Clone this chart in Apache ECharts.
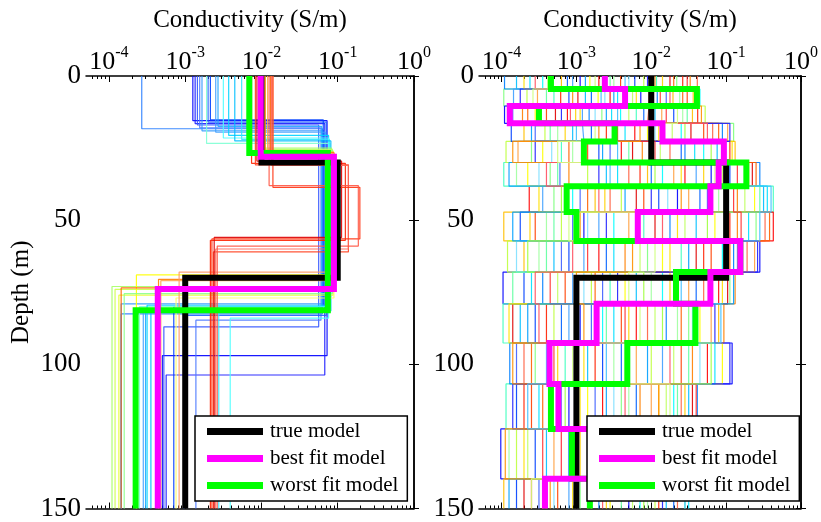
<!DOCTYPE html>
<html>
<head>
<meta charset="utf-8">
<script src="https://cdn.jsdelivr.net/npm/echarts@6/dist/echarts.min.js"></script>
<style>
  html, body { margin: 0; padding: 0; background: #fff; }
  #chart { width: 821px; height: 522px; }
</style>
</head>
<body>
<div id="chart"></div>
<script>
const FONT = '"Liberation Serif", "Times New Roman", serif'

// x axis is log10(conductivity), from 5e-5 to 1 S/m
const xMin = Math.log10(5e-5)
const xMax = 0
const decadeTicks = [-4, -3, -2, -1, 0]
const depthMax = 150

// true model (same in both panels)
const trueLog = [-2, -1, -3]
const trueTops = [0, 30, 70]

// left panel: 3-layer inversion
const leftBestLog = [-2.01, -1.05, -3.36]
const leftBestTops = [0, 28, 73.9]
const leftWorstLog = [-2.16, -1.13, -3.65]
const leftWorstTops = [0, 26.7, 81.2]

// left ensemble, one entry per model
const leftC1 = [-3.57, -2.90, -2.87, -2.84, -2.81, -2.78, -2.70, -2.67, -2.60, -2.57,
  -2.72, -2.43, -2.26, -2.50, -2.35, -2.00, -1.98, -2.02, -1.97, -1.96, -1.99,
  -1.95, -1.92, -1.88, -1.85, -2.13, -2.08, -2.06, -1.87, -1.85, -1.90]
const leftD1 = [18.3, 15.5, 16.5, 17, 18, 19, 16, 15.2, 19.5, 17.5,
  23.4, 20.6, 22, 21.5, 22.5, 25, 25.5, 26, 26.5, 27, 25.8,
  26.5, 27, 27.5, 28, 30.3, 30.8, 29.5, 31, 38.6, 38]
const leftC2 = [-1.20, -1.14, -1.17, -1.25, -1.22, -1.18, -1.15, -1.19, -1.16, -1.21,
  -1.10, -1.12, -1.11, -1.12, -1.09, -1.08, -1.07, -1.06, -1.08, -1.05, -1.07,
  -1.05, -1.04, -1.06, -1.03, -0.90, -0.86, -0.95, -0.86, -0.71, -0.73]
const leftD2 = [82.5, 97, 103.7, 87, 84.7, 79, 83, 80, 81, 82,
  80, 79.5, 80, 84, 81.5, 73, 74, 76, 69, 77, 75.5,
  70.5, 71, 73.5, 68, 57, 61, 56, 60, 56.5, 59]
const leftC3 = [-3.84, -3.30, -3.25, -3.28, -2.86, -3.84, -3.02, -3.15, -3.55, -3.52,
  -3.60, -3.50, -2.56, -2.41, -3.45, -3.96, -3.92, -3.87, -3.64, -3.12, -3.80,
  -3.35, -3.32, -3.84, -3.08, -2.67, -2.63, -2.62, -2.60, -2.65, -2.58]
const leftColors = ['#2a7fff', '#0000ff', '#1a1aff', '#3355ff', '#4d79ff', '#3399ff', '#2060ff', '#0040ff', '#40a0ff', '#1fa8ff',
  '#80ffd4', '#00d4ff', '#33e6ff', '#4dffff', '#00bfff', '#a6ff66', '#ccff4d', '#e6ff33', '#ffff00', '#ffff66', '#8cff8c',
  '#ff8000', '#ffa64d', '#ff6600', '#ff9966', '#ff2200', '#ff4422', '#dd0000', '#ff6655', '#ff3311', '#ff5544']

// right panel: fixed layer tops
const rightTops = [0, 4.5, 10.4, 16.4, 22.7, 30, 38.2, 47.2, 57.2, 68, 79, 92.6, 106.8, 122.4, 139.7]
const rightBestLog = [-2.62, -2.35, -3.89, -1.85, -1.03, -1.10, -1.21, -2.18, -0.81, -1.21, -2.73, -3.36, -3.24, -2.00, -3.42]
const rightWorstLog = [-3.34, -1.39, -3.50, -2.49, -2.90, -0.73, -3.13, -3.00, -0.81, -1.67, -1.41, -2.32, -3.34, -3.06, -2.82]

// right ensemble: one row per layer, one column per model
const rightLayerValues = [
  [-2.41, -3.80, -1.66, -2.95, -3.20, -1.93, -2.70, -3.96, -2.10, -1.48, -3.45, -2.22, -2.82, -1.385, -3.05, -2.50, -1.75, -3.62, -2.02, -2.61, -3.33, -1.58, -2.30, -1.85,
    -3.12, -1.70, -2.55, -3.70, -2.05, -1.52, -2.88, -3.38, -1.95, -2.35, -3.55, -2.75],
  [-1.52, -2.88, -3.97, -2.14, -1.71, -3.30, -2.55, -1.92, -3.66, -2.36, -1.35, -3.10, -2.71, -2.03, -3.84, -1.62, -2.98, -2.45, -3.52, -1.80, -2.25, -3.21, -2.62, -1.44,
    -2.80, -1.58, -3.40, -2.20, -3.75, -1.88, -2.50, -1.40, -3.05, -2.67, -1.75, -3.58],
  [-3.40, -1.95, -2.66, -3.96, -1.45, -2.20, -3.12, -2.83, -1.28, -3.72, -2.41, -1.70, -3.55, -2.05, -2.92, -1.58, -3.28, -2.53, -1.86, -3.85, -2.30, -1.38, -2.75, -3.01,
    -2.10, -3.65, -1.52, -2.95, -3.20, -1.80, -2.60, -3.88, -1.33, -2.45, -3.08, -1.65],
  [-1.30, -3.05, -0.90, -2.48, -3.70, -1.85, -2.22, -1.05, -3.42, -2.70, -1.60, -3.87, -2.05, -1.18, -2.90, -3.25, -1.47, -2.35, -0.98, -3.55, -1.72, -2.60, -1.95, -3.15,
    -2.80, -1.10, -3.35, -1.90, -0.95, -2.45, -3.60, -1.55, -2.15, -3.00, -1.25, -2.75],
  [-2.85, -1.12, -3.60, -1.98, -0.88, -3.20, -2.40, -1.55, -3.94, -2.12, -1.30, -2.70, -3.45, -1.75, -1.02, -3.05, -2.25, -1.42, -3.78, -2.55, -1.88, -0.95, -3.33, -2.00,
    -1.60, -3.10, -2.30, -0.92, -3.55, -1.95, -2.65, -1.20, -3.85, -2.45, -1.05, -3.25],
  [-0.75, -2.60, -3.35, -1.20, -2.05, -3.97, -1.55, -0.55, -2.85, -3.10, -1.85, -0.95, -3.65, -2.30, -1.40, -3.80, -0.65, -2.45, -1.70, -3.22, -1.05, -2.15, -3.50, -1.30,
    -2.00, -0.60, -3.25, -1.60, -2.70, -0.85, -3.90, -1.95, -0.70, -2.55, -3.40, -1.15],
  [-2.10, -0.50, -3.30, -1.65, -2.75, -0.37, -3.63, -1.25, -2.40, -0.85, -3.05, -1.90, -0.62, -2.55, -3.45, -1.10, -2.20, -0.45, -1.50, -2.95, -0.75, -3.15, -1.78, -2.62,
    -1.35, -2.85, -0.55, -3.50, -2.00, -0.90, -2.35, -3.20, -1.60, -0.40, -2.70, -1.20],
  [-3.55, -1.40, -0.60, -2.90, -3.97, -2.10, -0.37, -1.75, -3.20, -0.85, -2.50, -3.75, -1.15, -0.48, -2.70, -3.40, -1.95, -0.70, -2.30, -3.05, -1.55, -0.95, -2.85, -3.62,
    -2.20, -0.42, -3.30, -1.65, -2.60, -0.80, -3.85, -1.25, -2.95, -0.55, -1.85, -3.10],
  [-1.20, -3.30, -2.05, -0.55, -3.70, -1.60, -2.70, -0.90, -3.92, -2.35, -1.05, -3.10, -1.85, -0.72, -2.90, -3.50, -1.40, -2.50, -0.62, -3.20, -2.15, -1.30, -3.80, -0.80,
    -2.60, -0.95, -3.40, -1.75, -0.58, -2.85, -1.50, -3.65, -2.25, -0.85, -3.05, -1.95],
  [-3.15, -2.20, -0.95, -3.98, -1.65, -2.55, -1.10, -3.45, -2.80, -0.88, -1.85, -3.70, -2.35, -1.30, -3.05, -2.00, -0.98, -3.60, -1.50, -2.65, -3.25, -1.20, -2.90, -1.75,
    -1.40, -2.75, -3.85, -1.05, -2.45, -3.35, -0.90, -2.10, -3.00, -1.60, -3.55, -2.30],
  [-2.40, -3.75, -1.50, -2.95, -1.10, -3.98, -2.20, -1.80, -3.30, -1.03, -2.65, -3.55, -1.35, -2.05, -3.10, -1.65, -3.85, -2.50, -1.20, -2.80, -1.95, -3.40, -1.45, -2.30,
    -3.20, -1.60, -2.60, -3.90, -1.15, -2.35, -3.65, -1.85, -2.90, -1.07, -3.50, -2.15],
  [-1.60, -2.85, -3.55, -0.92, -2.30, -3.15, -1.25, -3.89, -2.00, -1.45, -3.40, -2.65, -1.05, -3.70, -1.85, -2.50, -3.00, -1.15, -2.20, -3.80, -1.70, -2.75, -1.35, -3.25,
    -2.40, -3.60, -1.50, -2.90, -0.95, -3.30, -2.05, -1.20, -3.85, -2.60, -1.75, -3.05],
  [-3.60, -1.50, -2.40, -3.10, -1.90, -3.94, -2.65, -1.385, -3.35, -2.15, -1.70, -3.80, -2.85, -1.60, -3.20, -2.30, -1.45, -3.50, -2.00, -2.75, -1.80, -3.70, -2.50, -1.55,
    -2.20, -3.45, -1.65, -2.95, -3.85, -1.40, -2.60, -3.15, -1.90, -3.65, -2.35, -1.75],
  [-2.10, -3.40, -1.75, -4.01, -2.60, -1.50, -3.20, -2.35, -3.80, -1.90, -2.85, -3.55, -1.60, -2.20, -3.05, -3.90, -1.85, -2.70, -3.30, -2.00, -3.65, -2.45, -1.70, -2.95,
    -3.10, -1.80, -2.50, -3.70, -2.05, -3.45, -1.55, -2.75, -3.95, -2.30, -3.20, -1.95],
  [-3.25, -1.80, -2.95, -2.30, -3.97, -1.55, -3.60, -2.70, -1.95, -3.40, -2.15, -3.80, -2.55, -1.65, -3.10, -2.05, -3.70, -1.50, -2.80, -3.50, -2.25, -1.90, -3.30, -2.60,
    -1.70, -3.45, -2.40, -3.05, -1.85, -2.85, -3.90, -2.10, -3.35, -1.55, -2.65, -3.60]
]
const rightColors = ['#ff4000', '#00bfff', '#80ff80', '#0000ff', '#ffbf00', '#40ffbf', '#ff0000', '#0080ff',
  '#bfff40', '#ff8000', '#00ffff', '#0040ff', '#ffff00', '#ff6040', '#40a0ff', '#a0ffa0',
  '#e00000', '#00e0ff', '#ffa040', '#4060ff', '#c0ff60', '#ff2000', '#80e0ff', '#ffd000',
  '#0060ff', '#ff6000', '#60ffa0', '#ffe000', '#2020ff', '#ff3030', '#00a0ff', '#a0ff40',
  '#ff9000', '#40c0ff', '#ff5060', '#d0ff80']

const legendNames = ['true model', 'best fit model', 'worst fit model']

// turn layer values + tops into a staircase path
function stepPoints(vals, tops) {
  const pts = []
  for (let i = 0; i < vals.length; i++) {
    const bottom = i + 1 < tops.length ? tops[i + 1] : depthMax
    pts.push([vals[i], tops[i]])
    pts.push([vals[i], bottom])
  }
  return pts
}

// minor ticks 2..9 per decade inside the axis range
const minorTicks = []
for (let d = -5; d < 0; d++) {
  for (let k = 2; k <= 9; k++) {
    const v = Math.log10(k) + d
    if (v > xMin + 1e-6 && v < xMax) minorTicks.push(v)
  }
}

const black = '#000'
const grids = [
  { left: 86, top: 76, width: 328, height: 435 },
  { left: 479, top: 76, width: 326, height: 435 }
]

const xAxes = []
const yAxes = []
grids.forEach((g, gi) => {
  // main top axis with labels
  xAxes.push({
    gridIndex: gi, type: 'value', position: 'top', min: xMin, max: xMax,
    name: 'Conductivity (S/m)', nameLocation: 'middle', nameGap: 43,
    nameTextStyle: { fontFamily: FONT, fontSize: 25, color: black },
    axisLine: { show: true, lineStyle: { color: black, width: 1.5 } },
    axisTick: { show: true, inside: true, length: 6, customValues: decadeTicks, lineStyle: { color: black } },
    axisLabel: {
      show: true, margin: 1, customValues: decadeTicks,
      formatter: v => '{b|10}{s|' + Math.round(v) + '}',
      rich: {
        b: { fontFamily: FONT, fontSize: 26, color: black, lineHeight: 30, verticalAlign: 'bottom' },
        s: { fontFamily: FONT, fontSize: 16, color: black, lineHeight: 16, verticalAlign: 'top' }
      }
    },
    splitLine: { show: false }
  })
  // minor ticks on top
  xAxes.push({
    gridIndex: gi, type: 'value', position: 'top', min: xMin, max: xMax,
    axisLine: { show: false },
    axisTick: { show: true, inside: true, length: 3, customValues: minorTicks, lineStyle: { color: black } },
    axisLabel: { show: false }, splitLine: { show: false }
  })
  // bottom frame
  xAxes.push({
    gridIndex: gi, type: 'value', position: 'bottom', min: xMin, max: xMax,
    axisLine: { show: true, lineStyle: { color: black, width: 1.5 } },
    axisTick: { show: true, inside: true, length: 6, customValues: decadeTicks, lineStyle: { color: black } },
    axisLabel: { show: false }, splitLine: { show: false }
  })
  xAxes.push({
    gridIndex: gi, type: 'value', position: 'bottom', min: xMin, max: xMax,
    axisLine: { show: false },
    axisTick: { show: true, inside: true, length: 3, customValues: minorTicks, lineStyle: { color: black } },
    axisLabel: { show: false }, splitLine: { show: false }
  })

  yAxes.push({
    gridIndex: gi, type: 'value', position: 'left', inverse: true, min: 0, max: depthMax, interval: 50,
    name: gi === 0 ? 'Depth (m)' : '', nameLocation: 'middle', nameGap: 52,
    nameTextStyle: { fontFamily: FONT, fontSize: 25, color: black },
    axisLine: { show: true, lineStyle: { color: black, width: 1.5 } },
    axisTick: { show: true, inside: true, length: 5, lineStyle: { color: black } },
    axisLabel: { show: true, margin: 5, fontFamily: FONT, fontSize: 27, color: black },
    splitLine: { show: false }
  })
  yAxes.push({
    gridIndex: gi, type: 'value', position: 'right', inverse: true, min: 0, max: depthMax, interval: 50,
    axisLine: { show: true, lineStyle: { color: black, width: 1.5 } },
    axisTick: { show: true, inside: true, length: 5, lineStyle: { color: black } },
    axisLabel: { show: false }, splitLine: { show: false }
  })
})

const series = []
function thin(gi, pts, color) {
  series.push({
    type: 'line', xAxisIndex: gi * 4, yAxisIndex: gi * 2, data: pts,
    symbol: 'none', silent: true, z: 2,
    lineStyle: { color: color, width: 1.2, opacity: 0.9 }
  })
}
function thick(gi, name, pts, color, z) {
  series.push({
    name: name, type: 'line', xAxisIndex: gi * 4, yAxisIndex: gi * 2, data: pts,
    symbol: 'none', silent: true, z: z,
    itemStyle: { color: color },
    lineStyle: { color: color, width: 6, join: 'miter', cap: 'butt' }
  })
}

// left ensemble
for (let m = 0; m < leftC1.length; m++) {
  thin(0, stepPoints([leftC1[m], leftC2[m], leftC3[m]], [0, leftD1[m], leftD2[m]]), leftColors[m])
}
// right ensemble
for (let m = 0; m < rightColors.length; m++) {
  thin(1, stepPoints(rightLayerValues.map(row => row[m]), rightTops), rightColors[m])
}

thick(0, 'true model', stepPoints(trueLog, trueTops), '#000000', 3)
thick(0, 'worst fit model', stepPoints(leftWorstLog, leftWorstTops), '#00ff00', 4)
thick(0, 'best fit model', stepPoints(leftBestLog, leftBestTops), '#ff00ff', 5)
thick(1, 'true model', stepPoints(trueLog, trueTops), '#000000', 3)
thick(1, 'worst fit model', stepPoints(rightWorstLog, rightTops), '#00ff00', 4)
thick(1, 'best fit model', stepPoints(rightBestLog, rightTops), '#ff00ff', 5)

const legendBase = {
  data: legendNames, orient: 'vertical', top: 416,
  icon: 'rect', itemWidth: 56, itemHeight: 7, itemGap: 6,
  padding: [5, 9, 5, 12],
  backgroundColor: '#fff', borderColor: black, borderWidth: 1.5, borderRadius: 0,
  selectedMode: false, z: 20,
  textStyle: { fontFamily: FONT, fontSize: 21, color: black, padding: [0, 0, 0, 2] }
}

const chart = echarts.init(document.getElementById('chart'), null, { renderer: 'canvas' })
chart.setOption({
  animation: false,
  backgroundColor: '#fff',
  grid: grids,
  xAxis: xAxes,
  yAxis: yAxes,
  legend: [
    Object.assign({}, legendBase, { left: 195 }),
    Object.assign({}, legendBase, { left: 587 })
  ],
  series: series
})
</script>
</body>
</html>
